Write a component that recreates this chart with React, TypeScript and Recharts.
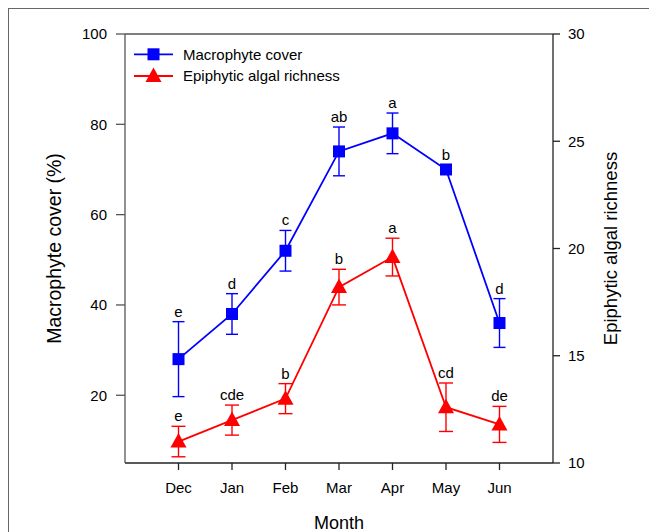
import { ComposedChart, Line, XAxis, YAxis, ErrorBar, LabelList, ReferenceLine } from 'recharts'

const FONT = '"Liberation Sans", Arial, sans-serif'
const BLUE = '#0000ff'
const RED = '#ff0000'

const months = ['Dec', 'Jan', 'Feb', 'Mar', 'Apr', 'May', 'Jun']
const coverMean = [28, 38, 52, 74, 78, 70, 36]
const coverErr = [8.3, 4.5, 4.5, 5.4, 4.5, 1.0, 5.4]
const coverLetters = ['e', 'd', 'c', 'ab', 'a', 'b', 'd']
const richMean = [11.0, 12.0, 13.0, 18.2, 19.6, 12.6, 11.8]
const richErr = [0.71, 0.7, 0.7, 0.83, 0.88, 1.13, 0.84]
const richLetters = ['e', 'cde', 'b', 'b', 'a', 'cd', 'de']
const coverTicks = [20, 40, 60, 80, 100]
const richTicks = [10, 15, 20, 25, 30]

const data = months.map((m, i) => ({
  month: m,
  cover: coverMean[i],
  coverErr: coverErr[i],
  coverTop: coverMean[i] + coverErr[i],
  coverLetter: coverLetters[i],
  rich: richMean[i],
  richErr: richErr[i],
  richTop: richMean[i] + richErr[i],
  richLetter: richLetters[i],
}))

const Square = (props: any) => {
  const { cx, cy } = props
  if (cx == null || cy == null) return <g />
  return <rect x={cx - 6} y={cy - 6} width={12} height={12} fill={BLUE} />
}

const Triangle = (props: any) => {
  const { cx, cy } = props
  if (cx == null || cy == null) return <g />
  return <path d={`M${cx},${cy - 8.5}L${cx + 8},${cy + 6}L${cx - 8},${cy + 6}Z`} fill={RED} />
}

const tickStyle = { fontSize: 15, fill: '#000', fontFamily: FONT }
const letterStyle = { fontSize: 15, fill: '#000', fontFamily: FONT }

export default function App() {
  return (
    <div style={{ position: 'relative', width: 649, height: 524, fontFamily: FONT }}>
      {/* marco exterior de la figura */}
      <div
        style={{
          position: 'absolute', left: -1, top: -1, width: 650, height: 525,
          borderTop: '2px solid #666', borderLeft: '2px solid #666', boxSizing: 'border-box',
        }}
      />
      <div style={{ position: 'absolute', left: 0, top: 0 }}>
        <ComposedChart width={649} height={524} data={data} margin={{ top: 26, right: 44, bottom: 0, left: 57 }}>
          <XAxis
            dataKey="month"
            padding={{ left: 53.5, right: 53.5 }}
            tick={tickStyle}
            tickSize={7}
            tickMargin={12.5}
            height={69}
            axisLine={{ stroke: '#222', strokeWidth: 1.3 }}
            tickLine={{ stroke: '#222', strokeWidth: 1.3 }}
            label={{
              value: 'Month',
              content: (p: any) => {
                const vb = p.viewBox
                return (
                  <text x={vb.x + vb.width / 2} y={vb.y + 66} textAnchor="middle" fontSize={18} fontFamily={FONT} fill="#000">
                    Month
                  </text>
                )
              },
            }}
          />
          <YAxis
            yAxisId="left"
            domain={[5, 100]}
            ticks={coverTicks}
            width={60}
            tick={tickStyle}
            tickSize={9}
            tickMargin={9}
            axisLine={{ stroke: '#555', strokeWidth: 1.3 }}
            tickLine={{ stroke: '#555', strokeWidth: 1.3 }}
            label={{
              value: 'Macrophyte cover (%)',
              content: (p: any) => {
                const vb = p.viewBox
                const cy = vb.y + vb.height / 2
                return (
                  <text transform={`translate(${vb.x - 4},${cy}) rotate(-90)`} textAnchor="middle" fontSize={19.5} fontFamily={FONT} fill="#000">
                    Macrophyte cover (%)
                  </text>
                )
              },
            }}
          />
          <YAxis
            yAxisId="right"
            orientation="right"
            domain={[10, 30]}
            ticks={richTicks}
            width={60}
            tick={tickStyle}
            tickSize={7}
            tickMargin={8}
            axisLine={{ stroke: '#222', strokeWidth: 1.3 }}
            tickLine={{ stroke: '#222', strokeWidth: 1.3 }}
            label={{
              value: 'Epiphytic algal richness',
              content: (p: any) => {
                const vb = p.viewBox
                const cy = vb.y + vb.height / 2
                return (
                  <text transform={`translate(${vb.x + 64},${cy}) rotate(-90)`} textAnchor="middle" fontSize={18.5} fontFamily={FONT} fill="#000">
                    Epiphytic algal richness
                  </text>
                )
              },
            }}
          />
          <ReferenceLine yAxisId="left" y={100} stroke="#555" strokeWidth={1.3} />

          <Line
            yAxisId="right"
            dataKey="rich"
            stroke={RED}
            strokeWidth={1.8}
            dot={<Triangle />}
            activeDot={false}
            isAnimationActive={false}
          >
            <ErrorBar dataKey="richErr" width={7} stroke={RED} strokeWidth={1.4} direction="y" />
          </Line>
          <Line
            yAxisId="right"
            dataKey="richTop"
            stroke="none"
            dot={false}
            activeDot={false}
            isAnimationActive={false}
          >
            <LabelList dataKey="richLetter" position="top" offset={5} style={letterStyle} />
          </Line>

          <Line
            yAxisId="left"
            dataKey="cover"
            stroke={BLUE}
            strokeWidth={1.8}
            dot={<Square />}
            activeDot={false}
            isAnimationActive={false}
          >
            <ErrorBar dataKey="coverErr" width={6} stroke={BLUE} strokeWidth={1.4} direction="y" />
          </Line>
          <Line
            yAxisId="left"
            dataKey="coverTop"
            stroke="none"
            dot={false}
            activeDot={false}
            isAnimationActive={false}
          >
            <LabelList dataKey="coverLetter" position="top" offset={5} style={letterStyle} />
          </Line>
        </ComposedChart>
      </div>

      {/* leyenda */}
      <svg style={{ position: 'absolute', left: 120, top: 30 }} width={240} height={56}>
        <line x1={6} x2={45} y1={16.3} y2={16.3} stroke={BLUE} strokeWidth={1.8} />
        <rect x={19.5} y={10.3} width={12} height={12} fill={BLUE} />
        <text x={55} y={21.5} fontSize={15} fontFamily={FONT} fill="#000">Macrophyte cover</text>
        <line x1={6} x2={45} y1={38} y2={38} stroke={RED} strokeWidth={1.8} />
        <path d="M25.5,29.5L33.5,44L17.5,44Z" fill={RED} />
        <text x={55} y={43.3} fontSize={15} fontFamily={FONT} fill="#000">Epiphytic algal richness</text>
      </svg>
    </div>
  )
}
